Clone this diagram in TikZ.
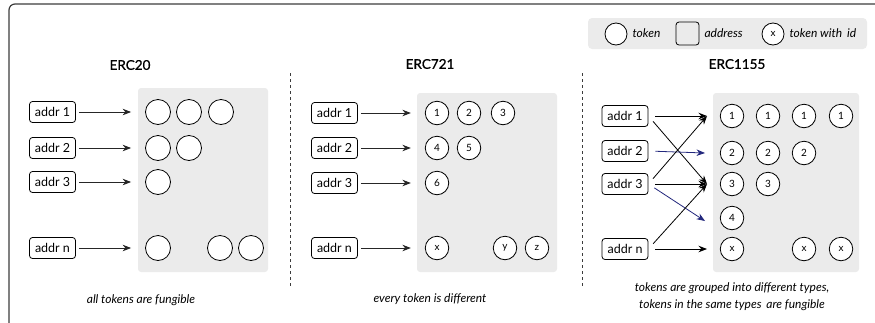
\documentclass[tikz,border=0pt]{standalone}
\usepackage{fontspec}
\setmainfont{Lato}
\newfontfamily\titlefont[FakeBold=0.8]{Lato}
\usetikzlibrary{arrows.meta}

\definecolor{panel}{RGB}{235,235,235}
\definecolor{framegray}{RGB}{60,60,60}
\definecolor{navy}{RGB}{35,40,125}

\begin{document}
\begin{tikzpicture}[x=1pt,y=-1pt,>={Stealth[length=8.5pt,width=6.5pt]},
  addr/.style={draw,rounded corners=3pt,minimum width=46pt,minimum height=21pt,
    inner sep=0pt,line width=0.8pt,font=\fontsize{12.5}{14}\selectfont},
  tok/.style={draw,circle,fill=white,minimum size=25pt,inner sep=0pt,line width=0.8pt},
  idtok/.style={tok,minimum size=23.5pt,font=\fontsize{10}{11}\selectfont},
  title/.style={font=\titlefont\fontsize{13.5}{15}\selectfont},
  note/.style={font=\itshape\fontsize{12}{17}\selectfont,align=center},
  link/.style={->,line width=0.8pt,black!85,shorten <=3pt,shorten >=14pt},
  cross/.style={->,line width=0.8pt,shorten <=7pt}]
  \useasboundingbox (0,0) rectangle (875,322);
  % Frame
  \draw[framegray,line width=1.2pt,rounded corners=6pt] (9,4) rectangle (895,345);
  % Legend
  \fill[panel,rounded corners=4pt] (588,18) rectangle (867,49);
  \node[tok,minimum size=22pt] (legtok) at (616,34) {};
  \node[anchor=west,note] (legtoktxt) at (629,33) {token};
  \node[draw,rounded corners=3pt,minimum size=23pt,line width=0.8pt] (legaddr) at (687.5,33.5) {};
  \node[anchor=west,note] (legaddrtxt) at (701,33) {address};
  \node[idtok,minimum size=22pt] (legid) at (773,34) {x};
  \node[anchor=west,note] (legidtxt) at (786,33) {token with\, id};
  % Separators
  \draw[dashed,framegray,line width=0.7pt] (290,73) -- (290,287);
  \draw[dashed,framegray,line width=0.7pt] (582.5,73) -- (582.5,287);

  % ERC20
  \node[title] (erc20) at (130,65) {ERC20};
  \fill[panel,rounded corners=3pt] (138,88) rectangle (268,272);
  \foreach \n/\y in {1/112,2/148,3/182,n/248}
    \node[addr] (p\n) at (52.5,\y) {addr \n};
  \foreach \x [count=\i] in {158,189,221} \node[tok] (pa\i) at (\x,112) {};
  \foreach \x [count=\i] in {158,189} \node[tok] (pb\i) at (\x,148) {};
  \node[tok] (pc1) at (158,182) {};
  \foreach \x [count=\i] in {158,220,251} \node[tok] (pn\i) at (\x,248) {};
  \draw[link] (p1) -- (pa1);
  \draw[link] (p2) -- (pb1);
  \draw[link] (p3) -- (pc1);
  \draw[link] (pn) -- (pn1);
  \node[note] (note20) at (141,300) {all tokens are fungible};

  % ERC721
  \node[title] (erc721) at (430,64) {ERC721};
  \fill[panel,rounded corners=3pt] (417,93) rectangle (557,272);
  \foreach \n/\y in {1/113,2/148,3/183,n/248}
    \node[addr] (q\n) at (334.5,\y) {addr \n};
  \foreach \x/\t [count=\i] in {437/1,469/2,503/3} \node[idtok] (qa\i) at (\x,113) {\t};
  \foreach \x/\t [count=\i] in {437/4,469/5} \node[idtok] (qb\i) at (\x,148) {\t};
  \node[idtok] (qc1) at (437,183) {6};
  \foreach \x/\t [count=\i] in {437/x,505/y,537/z} \node[idtok] (qn\i) at (\x,248) {\t};
  \draw[link] (q1) -- (qa1);
  \draw[link] (q2) -- (qb1);
  \draw[link] (q3) -- (qc1);
  \draw[link] (qn) -- (qn1);
  \node[note] (note721) at (430,299) {every token is different};

  % ERC1155
  \node[title] (erc1155) at (737,64) {ERC1155};
  \fill[panel,rounded corners=3pt] (713,93) rectangle (859,272);
  \foreach \n/\y in {1/116,2/151,3/184,n/249}
    \node[addr] (r\n) at (625,\y) {addr \n};
  \foreach \x [count=\i] in {732,768,804,841} \node[idtok] (ra\i) at (\x,116) {1};
  \foreach \x [count=\i] in {732,768,804} \node[idtok] (rb\i) at (\x,153) {2};
  \foreach \x [count=\i] in {732,768} \node[idtok] (rc\i) at (\x,184) {3};
  \node[idtok] (rd1) at (732,218) {4};
  \foreach \x [count=\i] in {732,804,841} \node[idtok] (rn\i) at (\x,249) {x};
  % arrow ends
  \coordinate (ina) at (707,116);
  \coordinate (inb) at (705,153);
  \coordinate (inc) at (707,184);
  \coordinate (ind) at (705,221);
  \coordinate (inn) at (707,249);
  \draw[cross] (r1.east) -- (ina);
  \draw[cross] (r1.east) -- (inc);
  \draw[cross,navy] (r2.east) -- (inb);
  \draw[cross] (r3.east) -- (ina);
  \draw[cross] (r3.east) -- (inc);
  \draw[cross,navy] (r3.east) -- (ind);
  \draw[cross] (rn.east) -- (inc);
  \draw[cross] (rn.east) -- (inn);
  \node[note] (note1155) at (732,296.5) {tokens are grouped into different types,\\tokens in the same types\, are fungible};
\end{tikzpicture}
\end{document}
